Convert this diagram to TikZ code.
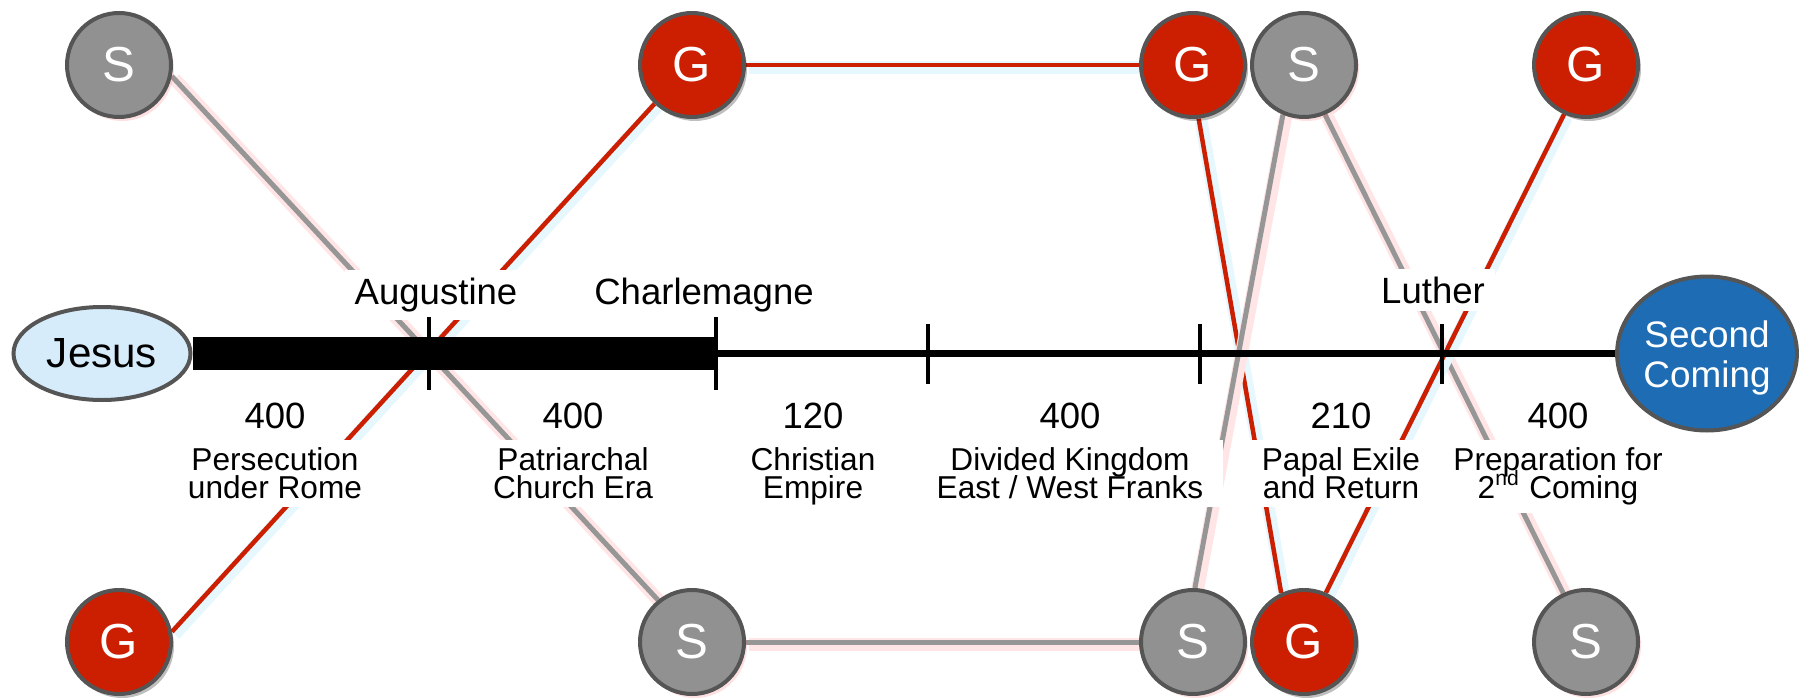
\documentclass[tikz,border=0pt]{standalone}
\usepackage{fontspec}
\setmainfont{Liberation Sans}
\usetikzlibrary{positioning, shapes.geometric, shadows, backgrounds}

\definecolor{godRed}{RGB}{204, 30, 0}
\definecolor{satanGray}{RGB}{145, 145, 145}
\definecolor{rimGray}{RGB}{85, 85, 85}
\definecolor{linkGray}{RGB}{150, 150, 150}
\definecolor{jesusBlue}{RGB}{214, 236, 251}
\definecolor{comingBlue}{RGB}{30, 108, 180}
\newcommand{\tightlines}{\setlength{\lineskiplimit}{-10pt}}

\begin{document}
\begin{tikzpicture}[
    ball/.style={circle, draw=rimGray, line width=0.04cm, minimum size=1.04cm,
                 inner sep=0pt, text=white, font=\fontsize{14}{14}\selectfont},
    gnode/.style={ball, fill=godRed,
                  drop shadow={shadow xshift=0.03cm, shadow yshift=-0.04cm,
                               fill=black, opacity=0.25}},
    snode/.style={ball, fill=satanGray,
                  drop shadow={shadow xshift=0.03cm, shadow yshift=-0.04cm,
                               fill=red!60, opacity=0.2}},
    era/.style={font=\fontsize{10.4}{12}\selectfont, fill=white, anchor=base,
                inner xsep=0.1cm, inner ysep=0.08cm},
    span/.style={font=\fontsize{10.4}{12}\selectfont, inner sep=0pt, anchor=base},
    desc/.style={font=\fontsize{9}{8}\selectfont\tightlines, align=center,
                 fill=white, inner xsep=0.2cm, inner ysep=0.08cm},
    tickmark/.style={line width=0.045cm},
    redlink/.style={draw=godRed, line width=0.045cm,
                    preaction={draw=cyan!10, line width=0.13cm,
                               transform canvas={shift={(0.025,-0.025)}}}},
    graylink/.style={draw=linkGray, line width=0.05cm,
                     preaction={draw=red!10, line width=0.13cm,
                                transform canvas={shift={(0.025,-0.025)}}}}
  ]
    \useasboundingbox (0,0) rectangle (17.99,6.98);

    % top row
    \node[snode] (ST1) at (1.19,6.33) {S};
    \node[gnode] (GT2) at (6.92,6.33) {G};
    \node[gnode] (GT3) at (11.93,6.33) {G};
    \node[snode] (ST4) at (13.04,6.33) {S};
    \node[gnode] (GT5) at (15.86,6.33) {G};
    % bottom row
    \node[gnode] (GB1) at (1.19,0.56) {G};
    \node[snode] (SB2) at (6.92,0.56) {S};
    \node[snode] (SB3) at (11.93,0.56) {S};
    \node[gnode] (GB4) at (13.04,0.56) {G};
    \node[snode] (SB5) at (15.86,0.56) {S};

    \begin{scope}[on background layer]
      \draw[graylink] (ST1.-12) -- (SB2.129);
      \draw[redlink] (GB1.11) -- (GT2.-134);
      \draw[redlink] (GT2.east) -- (GT3.west);
      \draw[graylink] (SB2.east) -- (SB3.west);
      \draw[redlink] (GT3.-84) -- (GB4.115);
      \draw[graylink] (SB3.88) -- (ST4.-113);
      \draw[graylink] (ST4.-67) -- (SB5.115);
      \draw[redlink] (GB4.66) -- (GT5.-114);
    \end{scope}

    % names above the line
    \node[era] (AUG) at (4.36,3.94) {Augustine};
    \node[era] (CHA) at (7.04,3.94) {Charlemagne};
    \node[era] (LUT) at (14.33,3.95) {Luther};

    % years and eras below the line
    \node[span] (N1) at (2.75,2.70) {400};
    \node[span] (N2) at (5.73,2.70) {400};
    \node[span] (N3) at (8.13,2.70) {120};
    \node[span] (N4) at (10.70,2.70) {400};
    \node[span] (N5) at (13.41,2.70) {210};
    \node[span] (N6) at (15.58,2.70) {400};
    \node[desc, below=0.1cm of N1] (D1) {Persecution\\under Rome};
    \node[desc, below=0.1cm of N2] (D2) {Patriarchal\\Church Era};
    \node[desc, below=0.1cm of N3] (D3) {Christian\\Empire};
    \node[desc, below=0.1cm of N4] (D4) {Divided Kingdom\\East / West Franks};
    \node[desc, below=0.1cm of N5] (D5) {Papal Exile\\and Return};
    \node[desc, below=0.1cm of N6] (D6) {Preparation for\\2\textsuperscript{nd} Coming};

    % time line
    \node[ellipse, draw=rimGray, line width=0.04cm, fill=jesusBlue, inner sep=0pt,
          minimum width=1.77cm, minimum height=0.93cm,
          font=\fontsize{12}{12}\selectfont] (JES) at (1.02,3.445) {Jesus};
    \node[ellipse, draw=rimGray, line width=0.04cm, fill=comingBlue, inner sep=0pt,
          minimum width=1.76cm, minimum height=1.54cm, text=white, align=center,
          font=\fontsize{10.5}{11.4}\selectfont] (SEC) at (17.07,3.445)
      {\rule{0pt}{0.36cm}Second\\Coming};
    \coordinate (T1) at (4.29,3.445);
    \coordinate (T2) at (7.16,3.445);
    \coordinate (T3) at (9.28,3.445);
    \coordinate (T4) at (12.00,3.445);
    \coordinate (T5) at (14.42,3.445);
    \draw[line width=0.33cm] (JES.east) -- (T2);
    \draw[line width=0.07cm] (T2) -- (SEC.west);
    \foreach \t/\h in {T1/0.365, T2/0.365, T3/0.3, T4/0.3, T5/0.3}
      \draw[tickmark] (\t) ++(0,\h) -- ++(0,-2*\h);
  \end{tikzpicture}
\end{document}
